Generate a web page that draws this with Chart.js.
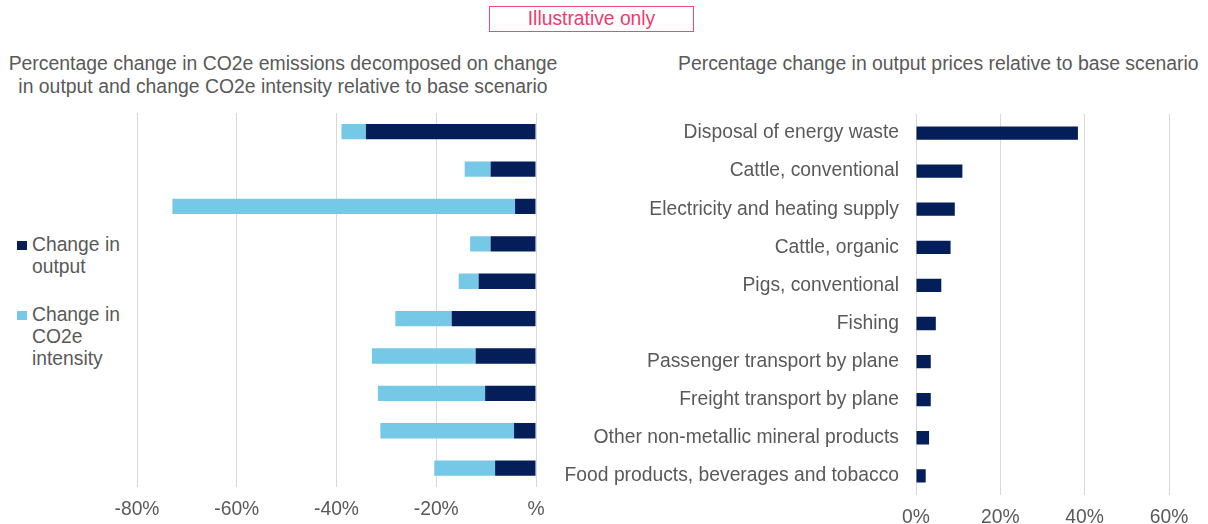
<!DOCTYPE html>
<html>
<head>
<meta charset="utf-8">
<script src="https://cdn.jsdelivr.net/npm/chart.js@4"></script>
<style>
    body { margin: 0; width: 1208px; height: 524px; overflow: hidden; background: #fff; font-family: 'Liberation Sans', Arial, sans-serif; color: #595959; position: relative; }
    .stamp { position: absolute; left: 489px; top: 6px; width: 203px; height: 24px; border: 1.5px solid #ef4a78; color: #ef3a6e; font-size: 19.3px; line-height: 24px; text-align: center; }
    .title { position: absolute; font-size: 19.4px; line-height: 23px; white-space: nowrap; }
    .legend { position: absolute; left: 17px; font-size: 19.3px; line-height: 22px; }
    .legend .sw { position: absolute; left: 0; top: 7px; width: 10px; height: 9px; }
    .legend .txt { margin-left: 15px; }
    canvas { position: absolute; }
</style>
</head>
<body>
<div class="stamp">Illustrative only</div>
<div class="title" style="left:0; width:566px; top:52px; text-align:center;">Percentage change in CO2e emissions decomposed on change<br>in output and change CO2e intensity relative to base scenario</div>
<div class="title" style="left:678px; top:52px;">Percentage change in output prices relative to base scenario</div>

<div class="legend" style="top:234px;"><span class="sw" style="background:#041e5a"></span><div class="txt">Change in<br>output</div></div>
<div class="legend" style="top:304px;"><span class="sw" style="background:#75c8e6"></span><div class="txt">Change in<br>CO2e<br>intensity</div></div>

<canvas id="emissions" width="470" height="436" style="left:100px; top:100px;"></canvas>
<canvas id="prices" width="668" height="441" style="left:540px; top:100px;"></canvas>

<script>
// =================== DATA =================== //
const sectors = [
    'Disposal of energy waste',
    'Cattle, conventional',
    'Electricity and heating supply',
    'Cattle, organic',
    'Pigs, conventional',
    'Fishing',
    'Passenger transport by plane',
    'Freight transport by plane',
    'Other non-metallic mineral products',
    'Food products, beverages and tobacco'
];
const changeOutput    = [-34.1, -9.1, -4.2, -9.1, -11.5, -16.9, -12.1, -10.2, -4.4, -8.2];
const changeIntensity = [-4.9, -5.2, -68.7, -4.1, -4.0, -11.3, -20.8, -21.5, -26.8, -12.2];
const priceChange     = [38.4, 11.0, 9.2, 8.2, 6.0, 4.7, 3.5, 3.5, 3.1, 2.3];
const emissionTicks   = [-80, -60, -40, -20, 0];
const priceTicks      = [0, 20, 40, 60];

const NAVY = '#041e5a';
const SKY = '#75c8e6';
const GREY_TEXT = '#595959';
const GRID = '#d9d9d9';
const FONT = { family: "'Liberation Sans', Arial, sans-serif", size: 19.3 };

Chart.defaults.color = GREY_TEXT;
Chart.defaults.font = FONT;

// =================== LEFT: EMISSIONS DECOMPOSITION =================== //
new Chart(document.getElementById('emissions'), {
    type: 'bar',
    data: {
        labels: sectors,
        datasets: [
            { label: 'Change in output', data: changeOutput, backgroundColor: NAVY },
            { label: 'Change in CO2e intensity', data: changeIntensity, backgroundColor: SKY }
        ]
    },
    options: {
        indexAxis: 'y',
        responsive: false,
        animation: false,
        barPercentage: 0.41,
        categoryPercentage: 1,
        layout: { padding: { left: 37, right: 34, top: 13, bottom: 4 } },
        plugins: { legend: { display: false }, tooltip: { enabled: false } },
        scales: {
            x: {
                stacked: true,
                min: -80,
                max: 0,
                afterBuildTicks: scale => { scale.ticks = emissionTicks.map(v => ({ value: v })); },
                ticks: {
                    padding: 11,
                    color: GREY_TEXT,
                    callback: v => v === 0 ? '%' : v + '%'
                },
                grid: { color: GRID, drawTicks: false },
                border: { display: false }
            },
            y: { stacked: true, display: false }
        }
    }
});

// =================== RIGHT: OUTPUT PRICES =================== //
new Chart(document.getElementById('prices'), {
    type: 'bar',
    data: {
        labels: sectors,
        datasets: [{ label: 'Price change', data: priceChange, backgroundColor: NAVY }]
    },
    options: {
        indexAxis: 'y',
        responsive: false,
        animation: false,
        barPercentage: 0.35,
        categoryPercentage: 1,
        layout: { padding: { left: 0, right: 39, top: 14, bottom: 1 } },
        plugins: { legend: { display: false }, tooltip: { enabled: false } },
        scales: {
            x: {
                min: 0,
                max: 60,
                afterBuildTicks: scale => { scale.ticks = priceTicks.map(v => ({ value: v })); },
                ticks: { padding: 11, color: GREY_TEXT, callback: v => v + '%' },
                grid: { color: GRID, drawTicks: false },
                border: { display: false }
            },
            y: {
                afterFit: scale => {
                    scale.width = 376;
                    scale.paddingTop = 0;
                    scale.paddingBottom = 0;
                },
                ticks: { padding: 17, color: GREY_TEXT, autoSkip: false },
                grid: { display: false, drawTicks: false },
                border: { display: false }
            }
        }
    }
});
</script>
</body>
</html>
